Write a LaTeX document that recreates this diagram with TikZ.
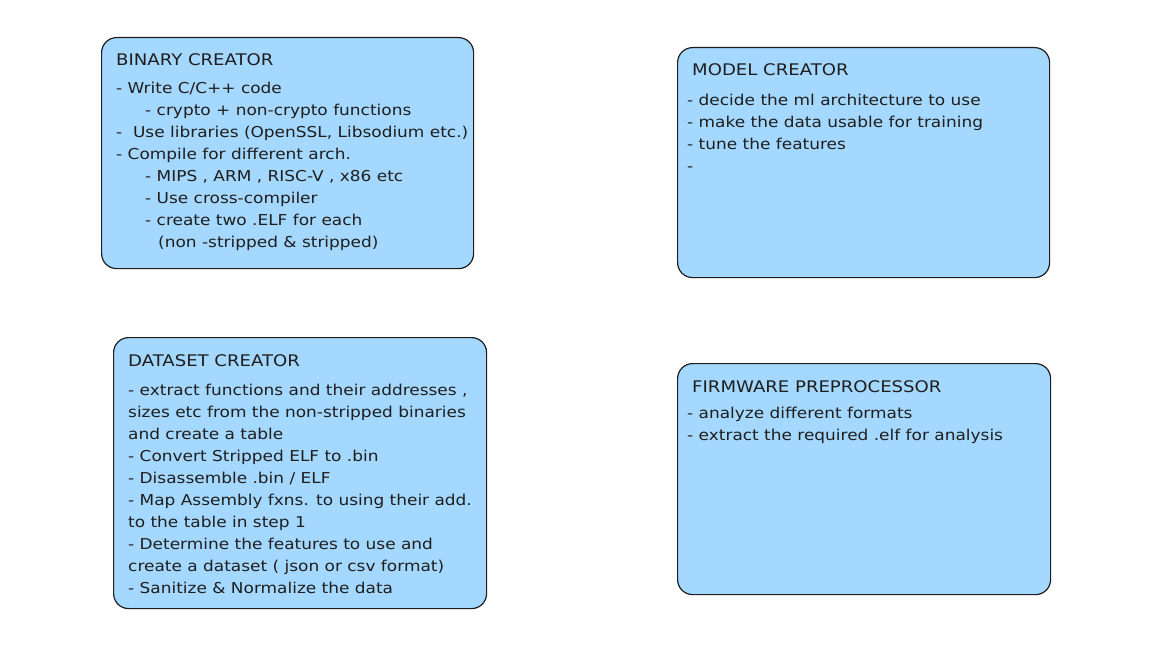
\documentclass[tikz,border=0pt]{standalone}
\usepackage{fontspec}
\setmainfont{DejaVu Sans}[FakeStretch=1.13]
\usetikzlibrary{positioning, calc}
\definecolor{cardfill}{HTML}{A5D8FF}
\definecolor{ink}{HTML}{1E1E1E}
\tikzset{
	card/.style={rectangle, draw=ink, fill=cardfill, line width=1.2pt, rounded corners=15pt, anchor=north west, inner sep=0pt},
	cardtitle/.style={inner sep=0pt, text=ink, font=\fontsize{16}{18}\selectfont},
	cardbody/.style={inner sep=0pt, align=left, text=ink, font=\fontsize{15}{22}\selectfont}
}
\begin{document}
\begin{tikzpicture}[
	x=1pt, y=-1pt,
	]
	
	% --- Canvas ---
	\useasboundingbox (0,0) rectangle (1166,655);
	
	% --- Cards ---
	\node[card, minimum width=372pt, minimum height=231pt] (binary) at (101,37) {};
	\node[card, minimum width=372pt, minimum height=230pt] (model) at (677,47) {};
	\node[card, minimum width=373pt, minimum height=271pt] (dataset) at (113,337) {};
	\node[card, minimum width=373pt, minimum height=231pt] (firmware) at (677,363) {};
	
	% --- Titles ---
	\node[cardtitle, below right=16pt and 15pt of binary.north west] (binarytitle) {BINARY CREATOR};
	\node[cardtitle, below right=16pt and 15pt of model.north west] (modeltitle) {MODEL CREATOR};
	\node[cardtitle, below right=17pt and 15pt of dataset.north west] (datasettitle) {DATASET CREATOR};
	\node[cardtitle, below right=17pt and 15pt of firmware.north west] (firmwaretitle) {FIRMWARE PREPROCESSOR};
	
	% --- Binary creator steps ---
	\node[cardbody, below right=45pt and 15pt of binary.north west] (binarybody) {%
		- Write C/C++ code\\
		\hspace*{29pt}- crypto + non-crypto functions\\
		-\ \ Use libraries (OpenSSL, Libsodium etc.)\\
		- Compile for different arch.\\
		\hspace*{29pt}- MIPS , ARM , RISC-V , x86 etc\\
		\hspace*{29pt}- Use cross-compiler\\
		\hspace*{29pt}- create two .ELF for each\\
		\hspace*{42pt}(non -stripped \& stripped)};
	
	% --- Model creator steps ---
	\node[cardbody, below right=47pt and 10pt of model.north west] (modelbody) {%
		- decide the ml architecture to use\\
		- make the data usable for training\\
		- tune the features\\
		-};
	
	% --- Dataset creator steps ---
	\node[cardbody, below right=47pt and 15pt of dataset.north west] (datasetbody) {%
		- extract functions and their addresses ,\\
		sizes etc from the non-stripped binaries\\
		and create a table\\
		- Convert Stripped ELF to .bin\\
		- Disassemble .bin / ELF\\
		- Map Assembly fxns. to using their add.\\
		to the table in step 1\\
		- Determine the features to use and\\
		create a dataset ( json or csv format)\\
		- Sanitize \& Normalize the data};
	
	% --- Firmware preprocessor steps ---
	\node[cardbody, below right=44pt and 10pt of firmware.north west] (firmwarebody) {%
		- analyze different formats\\
		- extract the required .elf for analysis};
	
\end{tikzpicture}
\end{document}
